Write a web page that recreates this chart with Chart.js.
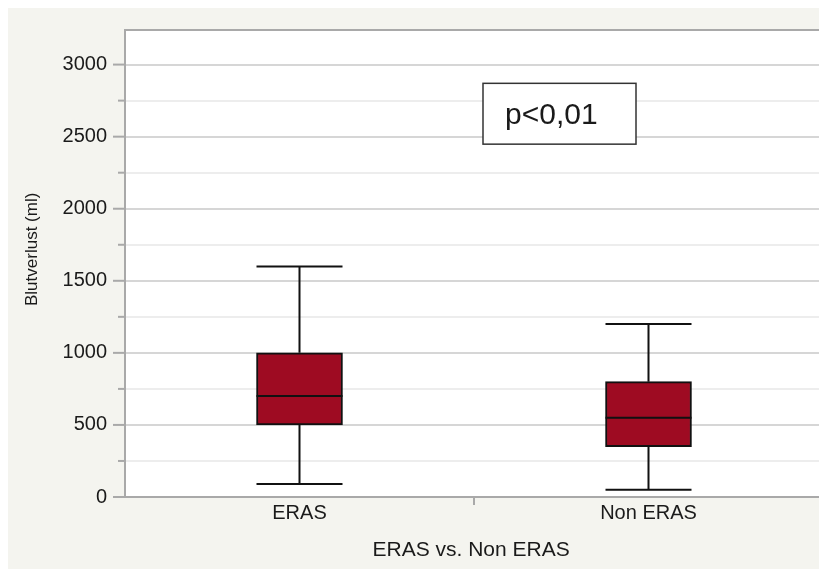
<!DOCTYPE html>
<html>
<head>
<meta charset="utf-8">
<script src="https://cdn.jsdelivr.net/npm/chart.js@4.4.1/dist/chart.umd.min.js"></script>
<style>
    body { margin: 0; background: #ffffff; overflow: hidden; }
    #mainChart { display: block; }
</style>
</head>
<body>
<canvas id="mainChart" width="824" height="571"></canvas>
<script>
const categories = ["ERAS", "Non ERAS"]
const whiskerLow = [90, 50]
const quartile1 = [500, 350]
const median = [700, 550]
const quartile3 = [1000, 800]
const whiskerHigh = [1600, 1200]

// every 250 gets a grid line, only these get a label
const yTickValues = [0, 250, 500, 750, 1000, 1250, 1500, 1750, 2000, 2250, 2500, 2750, 3000]
const yTickLabels = ["0", "", "500", "", "1000", "", "1500", "", "2000", "", "2500", "", "3000"]
const yMax = 3240
const pValueText = "p<0,01"

let fontFamily = "'Liberation Sans', Arial, Helvetica, sans-serif"
let boxColor = "#9e0b22"
let axisColor = "#a9a9a9"
let majorGridColor = "#d6d6d6"
let minorGridColor = "#ededed"
let textColor = "#1a1a1a"
let boxWidth = 86

function isMajor(index) {
    return yTickLabels[index] !== ""
}

// background, whiskers, medians, tick marks and the p value box
const boxPlotPlugin = {
    id: "boxPlot",
    beforeDraw(chart) {
        const ctx = chart.ctx
        const area = chart.chartArea
        ctx.save()
        ctx.fillStyle = "#ffffff"
        ctx.fillRect(0, 0, chart.width, chart.height)
        ctx.fillStyle = "#f4f4ef"
        ctx.fillRect(8, 8, chart.width - 8, chart.height - 10)
        ctx.fillStyle = "#ffffff"
        ctx.fillRect(area.left, area.top, area.right - area.left, area.bottom - area.top)
        ctx.restore()
    },
    afterDatasetsDraw(chart) {
        const ctx = chart.ctx
        const xScale = chart.scales.x
        const yScale = chart.scales.y
        const area = chart.chartArea
        const half = boxWidth / 2
        ctx.save()
        ctx.strokeStyle = "#111111"
        ctx.lineWidth = 2
        categories.forEach((cat, i) => {
            const x = xScale.getPixelForValue(i)
            const yLow = yScale.getPixelForValue(whiskerLow[i])
            const yQ1 = yScale.getPixelForValue(quartile1[i])
            const yMed = yScale.getPixelForValue(median[i])
            const yQ3 = yScale.getPixelForValue(quartile3[i])
            const yHigh = yScale.getPixelForValue(whiskerHigh[i])
            ctx.beginPath()
            ctx.moveTo(x, yQ3)
            ctx.lineTo(x, yHigh)
            ctx.moveTo(x - half, yHigh)
            ctx.lineTo(x + half, yHigh)
            ctx.moveTo(x, yQ1)
            ctx.lineTo(x, yLow)
            ctx.moveTo(x - half, yLow)
            ctx.lineTo(x + half, yLow)
            ctx.moveTo(x - half, yMed)
            ctx.lineTo(x + half, yMed)
            ctx.stroke()
        })

        ctx.strokeStyle = axisColor
        ctx.lineWidth = 2
        // top edge of the plot
        ctx.beginPath()
        ctx.moveTo(area.left - 1, area.top)
        ctx.lineTo(area.right, area.top)
        ctx.stroke()
        // tick marks on the y axis, long for labelled ones
        yTickValues.forEach((v, i) => {
            const y = yScale.getPixelForValue(v)
            const len = isMajor(i) ? 12 : 7
            ctx.beginPath()
            ctx.moveTo(area.left - len, y)
            ctx.lineTo(area.left, y)
            ctx.stroke()
        })
        // tick between the two groups
        const xMid = (xScale.getPixelForValue(0) + xScale.getPixelForValue(1)) / 2
        ctx.beginPath()
        ctx.moveTo(xMid, area.bottom)
        ctx.lineTo(xMid, area.bottom + 8)
        ctx.stroke()

        // p value box
        const boxLeft = area.left + 358
        const boxTop = yScale.getPixelForValue(2870)
        const boxBottom = yScale.getPixelForValue(2448)
        ctx.fillStyle = "#ffffff"
        ctx.fillRect(boxLeft, boxTop, 153, boxBottom - boxTop)
        ctx.strokeStyle = "#333333"
        ctx.lineWidth = 1.5
        ctx.strokeRect(boxLeft, boxTop, 153, boxBottom - boxTop)
        ctx.fillStyle = textColor
        ctx.font = "30px " + fontFamily
        ctx.textBaseline = "alphabetic"
        ctx.textAlign = "left"
        ctx.fillText(pValueText, boxLeft + 22, boxTop + 41)
        ctx.restore()
    }
}

function generateChart(chartId) {
    const ctx = document.getElementById(chartId).getContext("2d")
    window.myChart = new Chart(ctx, {
        type: "bar",
        data: {
            labels: categories,
            datasets: [
                {
                    label: "Blutverlust",
                    data: categories.map((c, i) => [quartile1[i], quartile3[i]]),
                    backgroundColor: boxColor,
                    borderColor: "#111111",
                    borderWidth: 2,
                    borderSkipped: false,
                    barThickness: boxWidth
                }
            ]
        },
        options: {
            responsive: false,
            animation: false,
            devicePixelRatio: 1,
            layout: { padding: { top: 27, left: 8, right: 1, bottom: 0 } },
            plugins: {
                legend: { display: false },
                tooltip: { enabled: false }
            },
            scales: {
                x: {
                    afterFit(scale) { scale.height = 74 },
                    grid: { display: false, drawTicks: false },
                    border: { display: true, color: axisColor, width: 2 },
                    ticks: {
                        padding: 4,
                        color: textColor,
                        font: { family: fontFamily, size: 20 }
                    },
                    title: {
                        display: true,
                        text: "ERAS vs. Non ERAS\u00a0",
                        color: textColor,
                        font: { family: fontFamily, size: 21 },
                        padding: { top: 0, bottom: 8 }
                    }
                },
                y: {
                    min: 0,
                    max: yMax,
                    afterFit(scale) { scale.width = 117 },
                    afterBuildTicks(scale) {
                        scale.ticks = yTickValues.map(v => ({ value: v }))
                    },
                    grid: {
                        drawTicks: false,
                        lineWidth: 2,
                        color: c => isMajor(c.index) ? majorGridColor : minorGridColor
                    },
                    border: { display: true, color: axisColor, width: 2 },
                    ticks: {
                        autoSkip: false,
                        padding: 18,
                        color: textColor,
                        font: { family: fontFamily, size: 20 },
                        callback: (value, index) => yTickLabels[index]
                    },
                    title: {
                        display: true,
                        text: "\u00a0\u00a0\u00a0\u00a0\u00a0\u00a0Blutverlust (ml)",
                        color: textColor,
                        font: { family: fontFamily, size: 17 },
                        padding: { top: 14, bottom: 0 }
                    }
                }
            }
        },
        plugins: [boxPlotPlugin]
    })
}

generateChart("mainChart")
</script>
</body>
</html>
